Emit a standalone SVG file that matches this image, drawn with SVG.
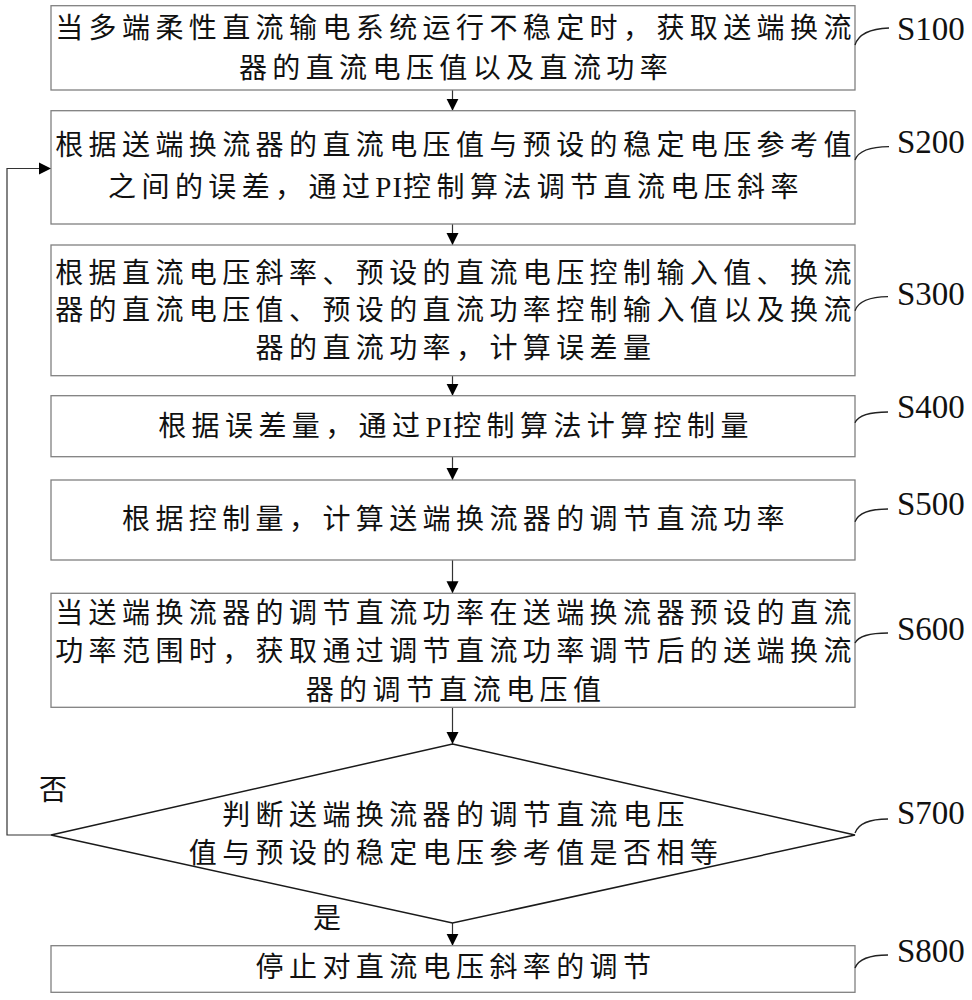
<svg xmlns="http://www.w3.org/2000/svg" width="972" height="1000" viewBox="0 0 972 1000">
<style>
.box{fill:#fff;stroke:#808080;stroke-width:1.3}
.dia{fill:#fff;stroke:#1a1a1a;stroke-width:1.5}
.t{font-family:"Liberation Serif","Noto Sans CJK SC",serif;font-size:28px;letter-spacing:5.4px;fill:#111;text-anchor:middle;dominant-baseline:central}
.pi{letter-spacing:1px;font-size:29px}
.lb{font-family:"Liberation Serif","Noto Sans CJK SC",serif;font-size:28px;fill:#111;text-anchor:middle;dominant-baseline:central}
.s{font-family:"Liberation Serif",serif;font-size:33px;fill:#111}
.c{fill:none;stroke:#222;stroke-width:1.3}
.a{fill:none;stroke:#333;stroke-width:1.2}
</style>
<defs>
<marker id="ah" viewBox="0 0 12 12" markerWidth="12" markerHeight="13" refX="12" refY="6" orient="auto" markerUnits="userSpaceOnUse">
<path d="M0,0 L12,6 L0,12 z" fill="#000"/>
</marker>
</defs>
<rect width="972" height="1000" fill="#fff"/>
<g id="connectors">
<line class="a" x1="452.5" y1="90" x2="452.5" y2="110.7" marker-end="url(#ah)"/>
<line class="a" x1="452.5" y1="224" x2="452.5" y2="245" marker-end="url(#ah)"/>
<line class="a" x1="452.5" y1="375.7" x2="452.5" y2="395.7" marker-end="url(#ah)"/>
<line class="a" x1="452.5" y1="456.7" x2="452.5" y2="480" marker-end="url(#ah)"/>
<line class="a" x1="452.5" y1="560" x2="452.5" y2="593.3" marker-end="url(#ah)"/>
<line class="a" x1="452.5" y1="707.3" x2="452.5" y2="744" marker-end="url(#ah)"/>
<line class="a" x1="452.5" y1="923" x2="452.5" y2="945.7" marker-end="url(#ah)"/>
<polyline class="a" points="51,835 7,835 7,168.5 51,168.5" marker-end="url(#ah)"/>
<text class="lb" x="53" y="790">否</text>
<text class="lb" x="327" y="918">是</text>
</g>
<g id="S100">
<rect class="box" x="51" y="5.7" width="804" height="84.3"/>
<text class="t" x="456" y="28">当多端柔性直流输电系统运行不稳定时，获取送端换流</text>
<text class="t" x="456" y="68">器的直流电压值以及直流功率</text>
<path class="c" d="M855,45 Q860,29 889,28"/>
<text class="s" x="897" y="40">S100</text>
</g>
<g id="S200">
<rect class="box" x="51" y="110.7" width="804" height="113.3"/>
<text class="t" x="456" y="145">根据送端换流器的直流电压值与预设的稳定电压参考值</text>
<text class="t" x="456" y="187">之间的误差，通过<tspan class="pi">PI</tspan>控制算法调节直流电压斜率</text>
<path class="c" d="M855,160 Q860,147 889,146.7"/>
<text class="s" x="897" y="153">S200</text>
</g>
<g id="S300">
<rect class="box" x="51" y="245" width="804" height="130.7"/>
<text class="t" x="456" y="273">根据直流电压斜率、预设的直流电压控制输入值、换流</text>
<text class="t" x="456" y="310">器的直流电压值、预设的直流功率控制输入值以及换流</text>
<text class="t" x="456" y="348">器的直流功率，计算误差量</text>
<path class="c" d="M855,310.7 Q860,297 888,296.7"/>
<text class="s" x="897" y="305">S300</text>
</g>
<g id="S400">
<rect class="box" x="51" y="395.7" width="804" height="61"/>
<text class="t" x="456" y="426.5">根据误差量，通过<tspan class="pi">PI</tspan>控制算法计算控制量</text>
<path class="c" d="M855,422.7 Q860,412 888,412"/>
<text class="s" x="897" y="418">S400</text>
</g>
<g id="S500">
<rect class="box" x="51" y="480" width="804" height="80"/>
<text class="t" x="456" y="519">根据控制量，计算送端换流器的调节直流功率</text>
<path class="c" d="M855,521.7 Q860,509 888,509"/>
<text class="s" x="897" y="515">S500</text>
</g>
<g id="S600">
<rect class="box" x="51" y="593.3" width="804" height="114"/>
<text class="t" x="456" y="613">当送端换流器的调节直流功率在送端换流器预设的直流</text>
<text class="t" x="456" y="651">功率范围时，获取通过调节直流功率调节后的送端换流</text>
<text class="t" x="456" y="690">器的调节直流电压值</text>
<path class="c" d="M855,643 Q860,633 888,633"/>
<text class="s" x="897" y="640">S600</text>
</g>
<g id="S700">
<polygon class="dia" points="452.5,744 855,835 452.5,923 51,835"/>
<text class="t" x="456" y="815">判断送端换流器的调节直流电压</text>
<text class="t" x="456" y="853">值与预设的稳定电压参考值是否相等</text>
<path class="c" d="M855,833 Q860,819 888,819"/>
<text class="s" x="897" y="824">S700</text>
</g>
<g id="S800">
<rect class="box" x="51" y="945.7" width="804" height="46.6"/>
<text class="t" x="456" y="967">停止对直流电压斜率的调节</text>
<path class="c" d="M855,968 Q860,955 888,955"/>
<text class="s" x="897" y="962">S800</text>
</g>
</svg>
